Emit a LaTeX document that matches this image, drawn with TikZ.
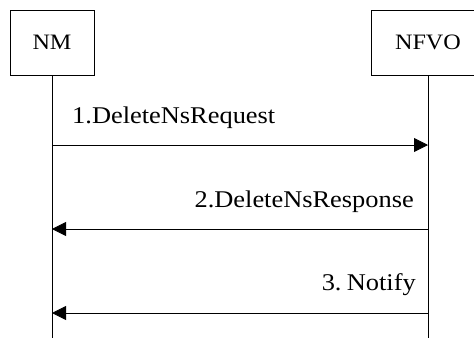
\documentclass[tikz,border=0pt]{standalone}
\usepackage{fontspec}
\setmainfont{Liberation Serif}[FakeStretch=1.1]
\usetikzlibrary{positioning,arrows.meta}

\begin{document}
\begin{tikzpicture}[
    x=1pt, y=-1pt,
    box/.style={
        draw,
        line width=0.8pt,
        minimum height=65pt,
        inner sep=0pt,
        font=\fontsize{22}{26}\selectfont
    },
    lifeline/.style={
        line width=0.8pt
    },
    msg/.style={
        -{Triangle[length=14pt,width=14pt]},
        line width=0.8pt
    },
    msglabel/.style={
        inner sep=0pt,
        font=\fontsize{24}{28}\selectfont
    }
]
\useasboundingbox (0,0) rectangle (474,338);

\node[box, minimum width=84pt] (nm) at (52,42.5) {NM};
\node[box, minimum width=114pt] (nfvo) at (428,42.5) {NFVO};

\coordinate (nmend) at (52,338);
\coordinate (nfvoend) at (428,338);
\draw[lifeline] (nm) -- (nmend);
\draw[lifeline] (nfvo) -- (nfvoend);

% messages
\coordinate (nm1) at (52,145);
\coordinate (nfvo1) at (428,145);
\coordinate (nm2) at (52,229);
\coordinate (nfvo2) at (428,229);
\coordinate (nm3) at (52,313);
\coordinate (nfvo3) at (428,313);

\draw[msg] (nm1) -- (nfvo1);
\draw[msg] (nfvo2) -- (nm2);
\draw[msg] (nfvo3) -- (nm3);

\node[msglabel, anchor=base west] (req) at (72,123) {1.DeleteNsRequest};
\node[msglabel, anchor=base east] (resp) at (414,207) {2.DeleteNsResponse};
\node[msglabel, anchor=base east] (notify) at (416,290) {3.\hspace{0.22em}Notify};

\end{tikzpicture}
\end{document}
